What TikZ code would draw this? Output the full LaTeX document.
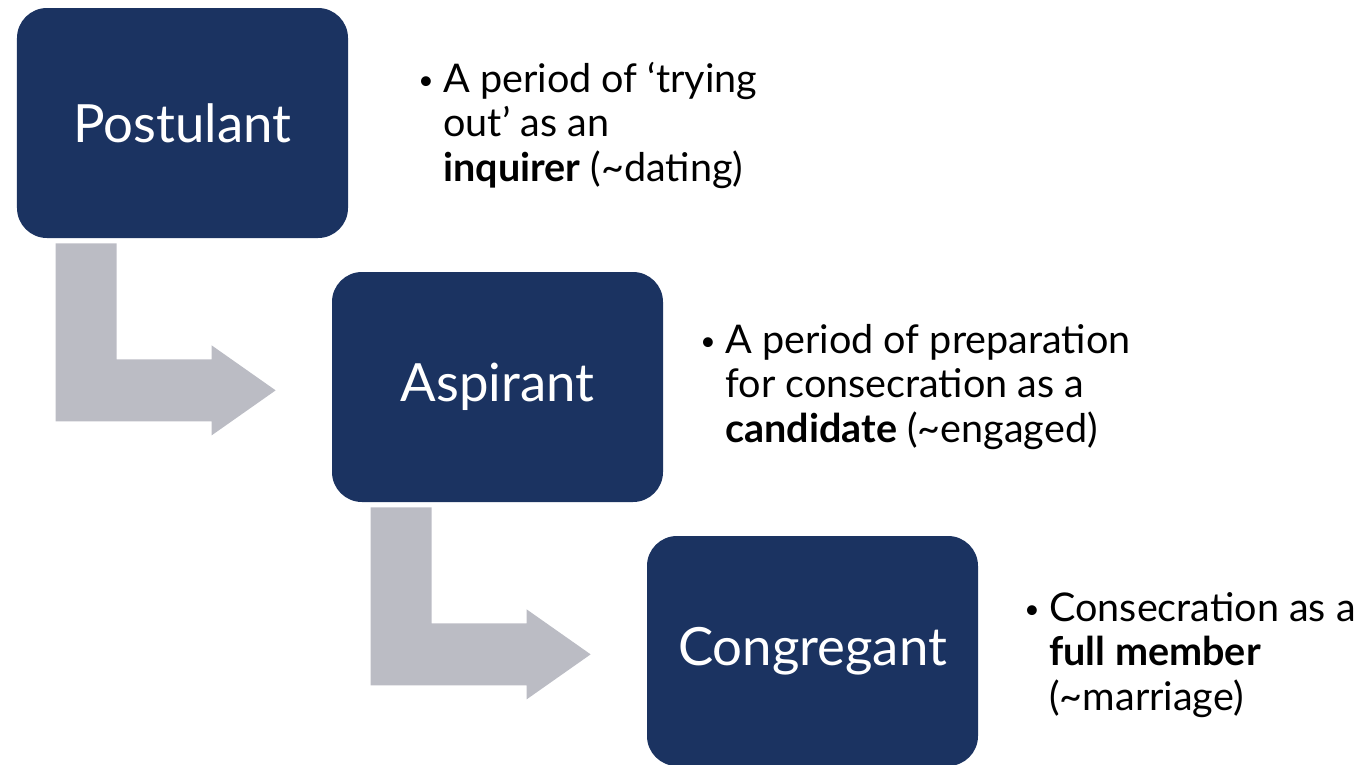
\documentclass[tikz,border=0pt]{standalone}
\usepackage{fontspec}
\setmainfont{Lato}
\usetikzlibrary{positioning}

\definecolor{stagenavy}{RGB}{27,51,97}
\definecolor{arrowgrey}{RGB}{187,188,196}

\newcommand{\notedot}{{\fontsize{15}{15}\selectfont\raisebox{1.2pt}{\textbullet}}}

\begin{document}
\begin{tikzpicture}[x=0.2mm, y=-0.2mm,
    stage/.style = {fill=stagenavy, text=white, rounded corners=6mm, minimum width=66.2mm, minimum height=46mm, inner sep=0pt, font=\fontsize{30}{36}\selectfont},
    note/.style = {anchor=base west, inner sep=0pt, font=\fontsize{22.5}{25.6}\selectfont}]
    \useasboundingbox (0,0) rectangle (1368,764);

    \node[stage] (postulant) at (182.5,123) {Postulant};
    \node[stage] (aspirant) at (497.5,387) {Aspirant};
    \node[stage] (congregant) at (812.5,651) {Congregant};

    % bent arrows between the stages
    \foreach \from in {postulant, aspirant}
        \fill[arrowgrey, shift={(\from.south west)}] (39,5) -- (100,5) -- (100,121) -- (195,121) -- (195,107) -- (259,152) -- (195,197) -- (195,183) -- (39,183) -- cycle;

    \node[note] (postulant_note) at (418,92) {\begin{tabular}[t]{@{}p{5mm}@{}l@{}}
        \notedot & A period of `trying\\
        & out' as an\\
        & \textbf{inquirer} (\textasciitilde dating)
    \end{tabular}};
    \node[note] (aspirant_note) at (700,353) {\begin{tabular}[t]{@{}p{5mm}@{}l@{}}
        \notedot & A period of preparation\\
        & for consecration as a\\
        & \textbf{candidate} (\textasciitilde engaged)
    \end{tabular}};
    \node[note] (congregant_note) at (1024,621) {\begin{tabular}[t]{@{}p{5mm}@{}l@{}}
        \notedot & Consecration as a\\
        & \textbf{full member}\\
        & (\textasciitilde marriage)
    \end{tabular}};
\end{tikzpicture}
\end{document}
